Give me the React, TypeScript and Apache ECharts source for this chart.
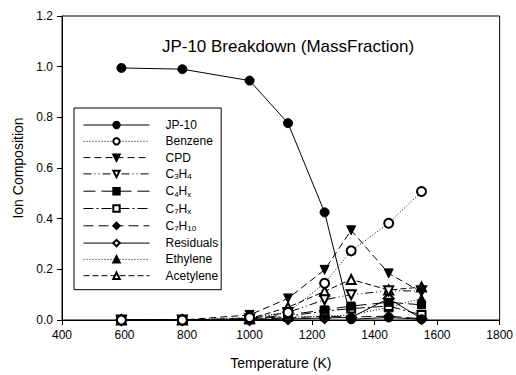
import React, { useEffect, useRef } from "react";
import * as echarts from "echarts";

const temperatures = [590, 785, 1000, 1123, 1240, 1325, 1445, 1550];

const seriesNames = ["JP-10", "Benzene", "CPD", "C3H4", "C4Hx", "C7Hx", "C7H10", "Residuals", "Ethylene", "Acetylene"];

const jp10 = [0.995, 0.99, 0.945, 0.777, 0.425, 0.003, 0.01, 0.003];
const benzene = [0.0, 0.0, 0.01, 0.03, 0.145, 0.273, 0.382, 0.507];
const cpd = [0.0, 0.0, 0.02, 0.085, 0.198, 0.354, 0.184, 0.11];
const c3h4 = [0.0, 0.0, 0.005, 0.03, 0.08, 0.1, 0.115, 0.115];
const c4hx = [0.0, 0.0, 0.005, 0.02, 0.04, 0.055, 0.07, 0.06];
const c7hx = [0.0, 0.0, 0.003, 0.015, 0.035, 0.045, 0.055, 0.02];
const c7h10 = [0.0, 0.0, 0.002, 0.008, 0.015, 0.012, 0.015, 0.005];
const residuals = [0.0, 0.0, 0.0, 0.004, 0.008, 0.01, 0.085, 0.005];
const ethylene = [0.0, 0.0, 0.005, 0.012, 0.015, 0.02, 0.05, 0.085];
const acetylene = [0.0, 0.0, 0.005, 0.05, 0.113, 0.16, 0.118, 0.13];

const yTicks = [0, 0.2, 0.4, 0.6, 0.8, 1.0, 1.2];
const xTicks = [400, 600, 800, 1000, 1200, 1400, 1600, 1800];

const values = [jp10, benzene, cpd, c3h4, c4hx, c7hx, c7h10, residuals, ethylene, acetylene];

const styles: { symbol: string; rotate: number; dash: any; size: number }[] = [
  { symbol: "circle", rotate: 0, dash: "solid", size: 9 },
  { symbol: "emptyCircle", rotate: 0, dash: [1, 2], size: 9 },
  { symbol: "triangle", rotate: 180, dash: [7, 4], size: 9 },
  { symbol: "emptyTriangle", rotate: 180, dash: [8, 3, 1, 3, 1, 3], size: 9 },
  { symbol: "rect", rotate: 0, dash: [12, 6], size: 8 },
  { symbol: "emptyRect", rotate: 0, dash: [10, 3, 2, 3], size: 8 },
  { symbol: "diamond", rotate: 0, dash: [10, 5], size: 10 },
  { symbol: "emptyDiamond", rotate: 0, dash: "solid", size: 10 },
  { symbol: "triangle", rotate: 0, dash: [1, 2], size: 9 },
  { symbol: "emptyTriangle", rotate: 0, dash: [6, 3], size: 9 },
];

const FONT = "'Liberation Sans', Arial, sans-serif";

function legendLabel(name: string): string {
  const m = name.match(/^C(\d+)H(\w+)$/);
  if (!m) return `{n|${name}}`;
  return `{n|C}{s|${m[1]}}{n|H}{s|${m[2]}}`;
}

export default function App() {
  const ref = useRef<HTMLDivElement>(null);
  useEffect(() => {
    if (!ref.current) return;
    const chart = echarts.init(ref.current, null, { renderer: "svg" });
    const series = seriesNames.map((name, i) => ({
      name,
      type: "line",
      data: temperatures.map((t, j) => [t, values[i][j]]),
      symbol: styles[i].symbol,
      symbolRotate: styles[i].rotate,
      symbolSize: styles[i].size,
      showAllSymbol: true,
      lineStyle: { color: "#000", width: 1, type: styles[i].dash },
      itemStyle: { color: "#000", borderColor: "#000", borderWidth: 1 },
      emphasis: { disabled: true },
      z: 10 - i,
    }));
    chart.setOption({
      animation: false,
      backgroundColor: "#fff",
      title: {
        text: "JP-10 Breakdown (MassFraction)",
        left: 283,
        top: 33,
        textAlign: "center",
        textStyle: { fontFamily: FONT, fontSize: 17, fontWeight: "normal", color: "#000" },
      },
      legend: {
        orient: "vertical",
        left: 74,
        top: 108,
        padding: [11, 3, 8, 9],
        backgroundColor: "#fff",
        borderColor: "#000",
        borderWidth: 1,
        borderRadius: 0,
        itemWidth: 66,
        itemHeight: 8,
        itemGap: 4.3,
        align: "left",
        data: seriesNames,
        formatter: (name: string) => legendLabel(name),
        lineStyle: { width: 1 },
        textStyle: {
          fontFamily: FONT,
          color: "#000",
          align: "left",
          padding: [0, 0, 0, 11],
          rich: {
            n: { fontFamily: FONT, fontSize: 12, lineHeight: 14, color: "#000", align: "left" },
            s: { fontFamily: FONT, fontSize: 8, lineHeight: 8, verticalAlign: "bottom", color: "#000", align: "left" },
          },
        },
      },
      grid: {
        left: 62,
        right: 13,
        top: 16,
        bottom: 51,
        show: true,
        borderColor: "#000",
        borderWidth: 1,
        backgroundColor: "transparent",
      },
      xAxis: {
        type: "value",
        min: xTicks[0],
        max: xTicks[xTicks.length - 1],
        interval: 200,
        name: "Temperature (K)",
        nameLocation: "middle",
        nameGap: 36,
        nameTextStyle: { fontFamily: FONT, fontSize: 14, color: "#000" },
        axisLine: { lineStyle: { color: "#000", width: 1 } },
        axisTick: { show: true, inside: false, length: 5, lineStyle: { color: "#000" } },
        axisLabel: {
          fontFamily: FONT,
          fontSize: 12,
          color: "#000",
          margin: 9,
          formatter: (v: number) => String(v),
        },
        splitLine: { show: false },
      },
      yAxis: {
        type: "value",
        min: yTicks[0],
        max: yTicks[yTicks.length - 1],
        interval: 0.2,
        name: "Ion Composition",
        nameLocation: "middle",
        nameGap: 31,
        nameRotate: 90,
        nameTextStyle: { fontFamily: FONT, fontSize: 14, color: "#000" },
        axisLine: { lineStyle: { color: "#000", width: 1 } },
        axisTick: { show: true, inside: false, length: 5, lineStyle: { color: "#000" } },
        axisLabel: {
          fontFamily: FONT,
          fontSize: 12,
          color: "#000",
          margin: 9,
          formatter: (v: number) => v.toFixed(1),
        },
        splitLine: { show: false },
      },
      series,
    });
    return () => chart.dispose();
  }, []);
  return (
    <div
      ref={ref}
      style={{ position: "fixed", left: 0, top: 0, width: 516, height: 375, background: "#fff" }}
    />
  );
}
